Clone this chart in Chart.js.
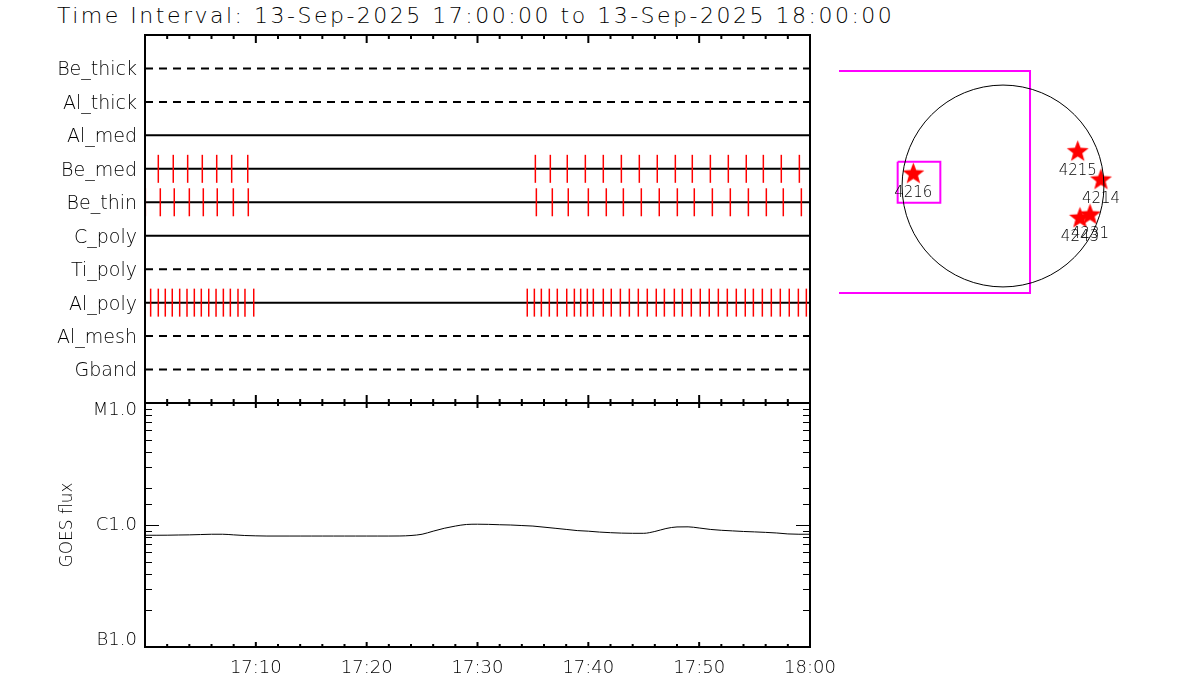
<!DOCTYPE html>
<html>
<head>
<meta charset="utf-8">
<title>Filter usage and GOES flux</title>
<script src="https://cdn.jsdelivr.net/npm/chart.js@4.4.1/dist/chart.umd.min.js"></script>
<style>
  body { margin: 0; background: #fff; }
  #wrap { position: relative; width: 1200px; height: 700px; }
  #wrap canvas { position: absolute; left: 0; top: 0; }
  #title { position: absolute; left: 57px; top: 5px; font: 200 22px 'DejaVu Sans'; line-height: 22px; letter-spacing: 2.5px; white-space: nowrap; color: #000; }
</style>
</head>
<body>
<div id="wrap">
  <div id="title">Time Interval: 13-Sep-2025 17:00:00 to 13-Sep-2025 18:00:00</div>
  <canvas id="filterChart" width="1200" height="700"></canvas>
  <canvas id="goesChart" width="1200" height="700"></canvas>
  <canvas id="sunChart" width="1200" height="700"></canvas>
</div>
<script>
// filters, top to bottom
const filterNames = ['Be_thick', 'Al_thick', 'Al_med', 'Be_med', 'Be_thin', 'C_poly', 'Ti_poly', 'Al_poly', 'Al_mesh', 'Gband'];

// exposure times, minutes after 17:00
const beMedTimes = [1.20, 2.55, 3.85, 5.17, 6.47, 7.82, 9.27,
    35.22, 36.57, 38.10, 39.73, 41.35, 42.98, 44.60, 46.22, 47.85, 49.38, 51.01, 52.63, 54.25, 55.79, 57.41, 59.04];
const beThinTimes = [0.03, 1.38, 2.64, 4.00, 5.26, 6.52, 7.97, 9.32,
    35.31, 36.75, 38.19, 40.00, 41.62, 43.16, 44.78, 46.40, 48.03, 49.56, 51.19, 52.81, 54.44, 56.06, 57.59, 59.22];
const alPolyTimes = [0.51, 1.20, 1.83, 2.46, 3.13, 3.79, 4.45, 5.08, 5.75, 6.41, 7.07, 7.70, 8.39, 9.02, 9.81,
    34.49, 35.13, 35.76, 36.48, 37.20, 38.05, 38.74, 39.31, 39.91, 40.45, 41.35, 42.07, 42.89, 43.70, 44.51, 45.32,
    46.13, 46.86, 47.76, 48.48, 49.29, 50.10, 50.91, 51.73, 52.54, 53.35, 54.16, 54.89, 55.70, 56.51, 57.32, 58.13,
    58.95, 59.67];

// GOES flux (W/m^2), one value per minute
const goesMinutes = [0, 1, 2, 3, 4, 5, 6, 7, 8, 9, 10, 11, 12, 13, 14, 15, 16, 17, 18, 19, 20, 21, 22, 23, 24, 25, 26, 27, 28, 29,
    30, 31, 32, 33, 34, 35, 36, 37, 38, 39, 40, 41, 42, 43, 44, 45, 46, 47, 48, 49, 50, 51, 52, 53, 54, 55, 56, 57, 58, 59, 60];
const goesFlux = [8.24e-7, 8.24e-7, 8.25e-7, 8.28e-7, 8.30e-7, 8.35e-7, 8.40e-7, 8.40e-7, 8.30e-7, 8.20e-7,
    8.15e-7, 8.12e-7, 8.12e-7, 8.12e-7, 8.12e-7, 8.12e-7, 8.12e-7, 8.12e-7, 8.12e-7, 8.12e-7,
    8.12e-7, 8.12e-7, 8.12e-7, 8.13e-7, 8.20e-7, 8.40e-7, 8.90e-7, 9.40e-7, 9.80e-7, 1.01e-6,
    1.015e-6, 1.012e-6, 1.005e-6, 1.0e-6, 9.90e-7, 9.80e-7, 9.60e-7, 9.40e-7, 9.20e-7, 9.00e-7,
    8.90e-7, 8.75e-7, 8.65e-7, 8.58e-7, 8.55e-7, 8.55e-7, 8.85e-7, 9.35e-7, 9.64e-7, 9.66e-7,
    9.45e-7, 9.20e-7, 9.05e-7, 8.95e-7, 8.85e-7, 8.78e-7, 8.70e-7, 8.60e-7, 8.45e-7, 8.40e-7, 8.40e-7];
const goesLevels = [1e-7, 1e-6, 1e-5];
const goesLevelNames = ['B1.0', 'C1.0', 'M1.0'];

const timeTickValues = [10, 20, 30, 40, 50, 60];
const timeTickLabels = ['17:10', '17:20', '17:30', '17:40', '17:50', '18:00'];

// solar disk (arcsec)
const sunRadius = 960;
const arNames = ['4216', '4215', '4214', '4243', '4231'];
const arX = [-853, 711, 932, 732, 828];
const arY = [114, 326, 57, -307, -276];
const fovX = [-1560, 257, 257, -1560];
const fovY = [1094, 1094, -1018, -1018];
const boxX = [-1002, -596, -596, -1002, -1002];
const boxY = [231, 231, -159, -159, 231];

Chart.defaults.font.family = "'DejaVu Sans'";
Chart.defaults.font.weight = 200;
Chart.defaults.color = '#000';

const dashedRows = ['Be_thick', 'Al_thick', 'Ti_poly', 'Al_mesh', 'Gband'];
const rowOf = name => filterNames.indexOf(name) + 1;
const xy = (xs, ys) => xs.map((v, i) => ({ x: v, y: ys[i] }));

function tickSet(times, name) {
    return {
        data: times.map(t => ({ x: t, y: rowOf(name) })),
        pointStyle: 'line',
        pointRotation: 90,
        pointRadius: 14,
        pointBorderColor: '#ff0000',
        pointBorderWidth: 1.5,
        order: 0
    };
}

// frame with inward ticks
function drawFrame(chart, minor, major) {
    const { ctx, chartArea: a, scales: { x } } = chart;
    ctx.save();
    ctx.strokeStyle = '#000';
    ctx.lineWidth = 2;
    ctx.strokeRect(a.left, a.top, a.right - a.left, a.bottom - a.top);
    x.ticks.forEach(t => {
        const px = x.getPixelForValue(t.value);
        const len = t.value % 10 === 0 ? major : minor;
        ctx.beginPath();
        ctx.moveTo(px, a.top); ctx.lineTo(px, a.top + len);
        ctx.moveTo(px, a.bottom); ctx.lineTo(px, a.bottom - len);
        ctx.stroke();
    });
    ctx.restore();
}

new Chart(document.getElementById('filterChart'), {
    type: 'scatter',
    data: {
        datasets: [
            tickSet(beMedTimes, 'Be_med'),
            tickSet(beThinTimes, 'Be_thin'),
            tickSet(alPolyTimes, 'Al_poly'),
            ...filterNames.map(n => ({
                data: [{ x: 0, y: rowOf(n) }, { x: 60, y: rowOf(n) }],
                showLine: true,
                borderColor: '#000',
                borderWidth: 2,
                borderDash: dashedRows.includes(n) ? [8, 6] : [],
                pointRadius: 0,
                order: 1
            }))
        ]
    },
    options: {
        responsive: false,
        animation: false,
        events: [],
        layout: { padding: { top: 35, right: 390, bottom: 297, left: 0 } },
        plugins: { legend: { display: false }, tooltip: { enabled: false } },
        scales: {
            x: {
                type: 'linear', min: 0, max: 60,
                ticks: { stepSize: 2, display: false },
                grid: { display: false, drawTicks: false },
                border: { display: false },
                afterFit: s => { s.height = 0; }
            },
            y: {
                type: 'linear', min: 0, max: 11, reverse: true,
                ticks: { stepSize: 1, autoSkip: false, padding: 8, labelOffset: 2, font: { size: 19 },
                    callback: v => filterNames[v - 1] || '' },
                grid: { display: false, drawTicks: false },
                border: { display: false },
                afterFit: s => { s.width = 145; }
            }
        }
    },
    plugins: [{ id: 'frameA', afterDraw: c => drawFrame(c, 4, 8) }]
});

new Chart(document.getElementById('goesChart'), {
    type: 'scatter',
    data: {
        datasets: [{
            data: xy(goesMinutes, goesFlux),
            showLine: true,
            borderColor: '#000',
            borderWidth: 1,
            cubicInterpolationMode: 'monotone',
            pointRadius: 0
        }]
    },
    options: {
        responsive: false,
        animation: false,
        events: [],
        layout: { padding: { top: 403, right: 390, bottom: 0, left: 0 } },
        plugins: { legend: { display: false }, tooltip: { enabled: false } },
        scales: {
            x: {
                type: 'linear', min: 0, max: 60,
                ticks: { stepSize: 2, autoSkip: false, maxRotation: 0, padding: 11, font: { size: 18 },
                    callback: v => { const i = timeTickValues.indexOf(v); return i < 0 ? '' : timeTickLabels[i]; } },
                grid: { display: false, drawTicks: false },
                border: { display: false },
                afterFit: s => { s.height = 53; }
            },
            y: {
                type: 'logarithmic', min: goesLevels[0], max: goesLevels[2],
                ticks: { display: false },
                grid: { display: false, drawTicks: false },
                border: { display: false },
                title: { display: true, text: 'GOES flux', font: { size: 17 }, padding: { top: 57, bottom: 0 } },
                afterFit: s => { s.width = 145; }
            }
        }
    },
    plugins: [{
        id: 'frameB',
        afterDraw(chart) {
            drawFrame(chart, 3, 5);
            const { ctx, chartArea: a, scales: { y } } = chart;
            ctx.save();
            ctx.strokeStyle = '#000';
            ctx.lineWidth = 1;
            y.ticks.forEach(t => {
                const py = Math.round(y.getPixelForValue(t.value)) + 0.5;
                const m = t.value / Math.pow(10, Math.floor(Math.log10(t.value) + 1e-9));
                const len = Math.abs(m - 1) < 1e-6 ? 14 : 7;
                ctx.beginPath();
                ctx.moveTo(a.left, py); ctx.lineTo(a.left + len, py);
                ctx.moveTo(a.right, py); ctx.lineTo(a.right - len, py);
                ctx.stroke();
            });
            ctx.fillStyle = '#000';
            ctx.font = "200 18px 'DejaVu Sans'";
            ctx.textAlign = 'right';
            ctx.textBaseline = 'middle';
            goesLevels.forEach((v, i) => {
                const py = Math.min(Math.max(y.getPixelForValue(v), a.top + 7), a.bottom - 7);
                ctx.fillText(goesLevelNames[i], a.left - 8, py);
            });
            ctx.restore();
        }
    }]
});

function makeStar(r) {
    const c = document.createElement('canvas');
    c.width = c.height = 2 * r + 2;
    const g = c.getContext('2d');
    g.fillStyle = '#ff0000';
    g.beginPath();
    for (let k = 0; k < 10; k++) {
        const rr = k % 2 ? r * 0.42 : r;
        const ang = -Math.PI / 2 + k * Math.PI / 5;
        g.lineTo(r + 1 + rr * Math.cos(ang), r + 1 + rr * Math.sin(ang));
    }
    g.closePath();
    g.fill();
    return c;
}
const starImg = makeStar(11.5);

new Chart(document.getElementById('sunChart'), {
    type: 'scatter',
    data: {
        datasets: [
            {
                data: [{ x: 0, y: 0 }],
                pointRadius: ctx => {
                    const s = ctx.chart.scales.x;
                    return Math.abs(s.getPixelForValue(sunRadius) - s.getPixelForValue(0));
                },
                pointBackgroundColor: 'rgba(0,0,0,0)',
                pointBorderColor: '#000',
                pointBorderWidth: 1,
                clip: false
            },
            { data: xy(fovX, fovY), showLine: true, borderColor: '#ff00ff', borderWidth: 2, pointRadius: 0, clip: false },
            { data: xy(boxX, boxY), showLine: true, borderColor: '#ff00ff', borderWidth: 2, pointRadius: 0, clip: false },
            { data: xy(arX, arY), pointStyle: starImg, pointRadius: 11, clip: false }
        ]
    },
    options: {
        responsive: false,
        animation: false,
        events: [],
        layout: { padding: { top: 22, right: 33, bottom: 350, left: 839 } },
        plugins: { legend: { display: false }, tooltip: { enabled: false } },
        scales: {
            x: { type: 'linear', min: -1560, max: 1560, display: false },
            y: { type: 'linear', min: -1560, max: 1560, display: false }
        }
    },
    plugins: [{
        id: 'arLabels',
        afterDatasetsDraw(chart) {
            const { ctx, scales: { x, y } } = chart;
            ctx.save();
            ctx.fillStyle = '#000';
            ctx.font = "200 15px 'DejaVu Sans'";
            ctx.textAlign = 'center';
            ctx.textBaseline = 'middle';
            arNames.forEach((n, i) => {
                ctx.fillText(n, x.getPixelForValue(arX[i]), y.getPixelForValue(arY[i]) + 19);
            });
            ctx.restore();
        }
    }]
});
</script>
</body>
</html>
